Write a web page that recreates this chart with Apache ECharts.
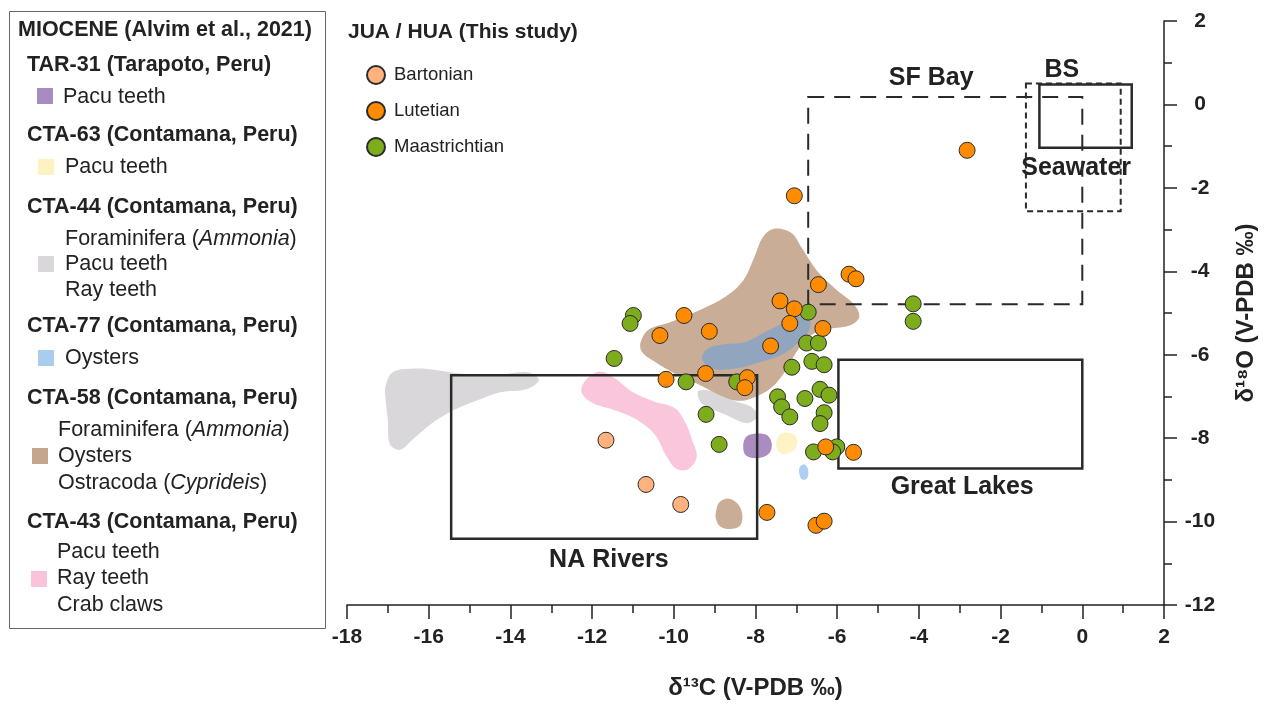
<!DOCTYPE html>
<html><head><meta charset="utf-8">
<script src="https://cdn.jsdelivr.net/npm/echarts@6/dist/echarts.min.js"></script>
<style>html,body{margin:0;padding:0;background:#fff}#c{width:1272px;height:707px}</style>
</head><body><div id="c"></div>
<script>
// ---------- DATA ----------
const xRange = [-18, 2];
const yRange = [-12, 2];

const bartonian = [[-11.66,-8.05],[-10.68,-9.11],[-9.83,-9.59]];
const lutetian = [[-2.82,-1.10],[-7.05,-2.19],[-5.71,-4.07],[-5.54,-4.18],[-6.46,-4.32],[-7.40,-4.71],[-7.05,-4.90],[-7.16,-5.25],[-6.35,-5.37],[-7.63,-5.79],[-9.13,-5.44],[-9.75,-5.06],[-10.34,-5.54],[-9.22,-6.45],[-10.19,-6.59],[-8.20,-6.55],[-8.26,-6.79],[-6.28,-8.21],[-5.60,-8.34],[-7.72,-9.78],[-6.52,-10.09],[-6.32,-9.99]];
const maastrichtian = [[-10.99,-5.06],[-11.07,-5.25],[-11.46,-6.09],[-9.70,-6.65],[-9.21,-7.43],[-8.89,-8.15],[-8.46,-6.65],[-6.71,-4.98],[-4.14,-4.78],[-4.14,-5.20],[-6.75,-5.72],[-6.46,-5.72],[-7.11,-6.30],[-6.62,-6.16],[-6.32,-6.24],[-7.46,-7.01],[-7.36,-7.25],[-7.16,-7.49],[-6.79,-7.05],[-6.42,-6.83],[-6.20,-6.97],[-6.32,-7.39],[-6.42,-7.65],[-6.58,-8.33],[-6.01,-8.21],[-6.11,-8.33]];

// Miocene fields (outlines, delta13C / delta18O)
const cta58Fields = [
  [[-10.82,-5.73],[-10.62,-5.40],[-10.09,-5.22],[-9.36,-4.93],[-8.72,-4.60],[-8.30,-4.22],[-8.02,-3.64],[-7.82,-3.18],[-7.55,-2.98],[-7.12,-3.08],[-6.86,-3.45],[-6.50,-3.98],[-6.02,-4.44],[-5.58,-4.80],[-5.46,-5.10],[-5.70,-5.30],[-6.30,-5.40],[-6.68,-5.56],[-7.00,-5.94],[-7.26,-6.38],[-7.62,-6.80],[-8.13,-7.06],[-8.50,-7.10],[-8.90,-6.96],[-9.38,-6.72],[-9.88,-6.50],[-10.38,-6.22],[-10.76,-5.96]],
  [[-8.96,-9.73],[-8.88,-9.53],[-8.65,-9.45],[-8.43,-9.58],[-8.32,-9.85],[-8.38,-10.10],[-8.62,-10.18],[-8.86,-10.12],[-8.97,-9.93]]
];
const cta44Fields = [
  [[-17.06,-6.77],[-16.92,-6.45],[-16.65,-6.35],[-16.04,-6.34],[-15.23,-6.45],[-14.43,-6.50],[-13.59,-6.42],[-13.30,-6.60],[-13.59,-6.82],[-14.25,-6.90],[-14.82,-7.10],[-15.41,-7.34],[-16.00,-7.70],[-16.40,-8.04],[-16.70,-8.28],[-16.95,-8.14],[-17.00,-7.57],[-17.06,-7.02]],
  [[-9.38,-6.86],[-9.04,-6.88],[-8.55,-7.10],[-8.09,-7.26],[-7.96,-7.48],[-8.21,-7.64],[-8.70,-7.45],[-9.28,-7.20],[-9.41,-7.00]]
];
const cta43Fields = [
  [[-12.16,-6.61],[-11.81,-6.40],[-11.45,-6.56],[-11.03,-6.88],[-10.48,-7.12],[-9.98,-7.28],[-9.72,-7.62],[-9.55,-8.05],[-9.44,-8.45],[-9.66,-8.75],[-9.95,-8.73],[-10.21,-8.38],[-10.45,-7.93],[-10.92,-7.55],[-11.51,-7.31],[-12.00,-7.15],[-12.26,-6.90]]
];
const tar31Fields = [
  [[-8.30,-8.17],[-8.22,-7.96],[-7.96,-7.89],[-7.70,-7.94],[-7.60,-8.15],[-7.68,-8.38],[-7.96,-8.48],[-8.24,-8.41]]
];
const cta63Fields = [
  [[-7.48,-8.05],[-7.38,-7.90],[-7.18,-7.87],[-7.00,-7.97],[-7.00,-8.21],[-7.16,-8.35],[-7.35,-8.38],[-7.48,-8.25]]
];
const cta77Fields = [
  [[-9.31,-6.09],[-9.16,-5.85],[-8.75,-5.75],[-8.26,-5.70],[-7.77,-5.46],[-7.28,-5.22],[-6.91,-5.08],[-6.67,-5.18],[-6.71,-5.46],[-7.03,-5.78],[-7.40,-6.02],[-7.89,-6.18],[-8.50,-6.33],[-9.06,-6.33]],
  [[-6.91,-8.68],[-6.79,-8.63],[-6.71,-8.77],[-6.74,-8.97],[-6.86,-8.99],[-6.93,-8.84]]
];

// reference water boxes [x0, y0, x1, y1]
const boxNames = ['NA Rivers', 'Great Lakes', 'SF Bay', 'Seawater', 'BS'];
const boxExtents = [[-15.45,-6.49,-7.96,-10.41],[-5.97,-6.12,0.0,-8.73],[-6.71,0.18,0.0,-4.79],[-1.38,0.50,0.94,-2.56],[-1.05,0.48,1.21,-1.04]];
const boxLabelPos = [[-11.59,-10.93],[-2.94,-9.18],[-3.70,0.63],[-0.15,-1.52],[-0.50,0.82]];

// ---------- STYLE ----------
const FONT = '"Liberation Sans", Arial, sans-serif';
const boxStyle = {
  'NA Rivers': {lineWidth: 2.5, lineDash: null},
  'Great Lakes': {lineWidth: 2.5, lineDash: null},
  'SF Bay': {lineWidth: 2, lineDash: [16, 10]},
  'Seawater': {lineWidth: 2, lineDash: [6, 4]},
  'BS': {lineWidth: 2.5, lineDash: null}
};

function fieldSeries(name, polys, color, z) {
  return {
    type: 'custom', name: name, coordinateSystem: 'cartesian2d', silent: true, z: z,
    data: polys.map((p, i) => [p[0][0], p[0][1], i]),
    encode: {x: 0, y: 1},
    renderItem: function (params, api) {
      const pts = polys[params.dataIndex].map(p => api.coord(p));
      return {type: 'polygon', shape: {points: pts, smooth: 0.35}, style: {fill: color}};
    }
  };
}

const chart = echarts.init(document.getElementById('c'), null, {renderer: 'canvas'});

const scatterCommon = {symbol: 'circle', symbolSize: 16};

function T(text, x, y, bold) {
  return {type: 'text', x: x, y: y, style: {text: text, fill: '#222', font: (bold ? 'bold ' : '') + '21.5px ' + FONT, verticalAlign: 'middle'}};
}
function R(text, x, y) {
  return {type: 'text', x: x, y: y, style: {
    rich: {i: {fontFamily: FONT, fontSize: 21.5, fontStyle: 'italic', fill: '#222'}},
    text: text, fill: '#222', font: '21.5px ' + FONT, verticalAlign: 'middle'}};
}
function SQ(x, y, w, color) {
  return {type: 'rect', shape: {x: x, y: y, width: w, height: w}, style: {fill: color}};
}

const option = {
  animation: false,
  backgroundColor: '#fff',
  grid: {left: 347, right: 108, top: 21, bottom: 102},
  xAxis: {
    type: 'value', min: xRange[0], max: xRange[1], interval: 2, position: 'bottom',
    name: 'δ¹³C (V-PDB ‰)', nameLocation: 'middle', nameGap: 71,
    nameTextStyle: {fontFamily: FONT, fontWeight: 'bold', fontSize: 24, color: '#222'},
    axisLine: {onZero: false, lineStyle: {color: '#222', width: 1.5}},
    axisTick: {length: 14, lineStyle: {color: '#222', width: 1.5}},
    minorTick: {show: true, splitNumber: 2, length: 8, lineStyle: {color: '#222', width: 1.5}},
    splitLine: {show: false},
    axisLabel: {fontFamily: FONT, fontWeight: 'bold', fontSize: 21, color: '#222', margin: 22}
  },
  yAxis: {
    type: 'value', min: yRange[0], max: yRange[1], interval: 2, position: 'right',
    name: 'δ¹⁸O (V-PDB ‰)', nameLocation: 'middle', nameGap: 70, nameRotate: 90,
    nameTextStyle: {fontFamily: FONT, fontWeight: 'bold', fontSize: 24, color: '#222'},
    axisLine: {onZero: false, lineStyle: {color: '#222', width: 1.5}},
    axisTick: {length: 13, lineStyle: {color: '#222', width: 1.5}},
    minorTick: {show: true, splitNumber: 2, length: 8, lineStyle: {color: '#222', width: 1.5}},
    splitLine: {show: false},
    axisLabel: {fontFamily: FONT, fontWeight: 'bold', fontSize: 21, color: '#222', margin: 36, align: 'center'}
  },
  legend: {
    data: ['Bartonian', 'Lutetian', 'Maastrichtian'],
    left: 361, top: 60, orient: 'vertical', itemWidth: 18, itemHeight: 18, itemGap: 16,
    icon: 'circle',
    textStyle: {fontFamily: FONT, fontSize: 18.5, color: '#222', padding: [0, 0, 0, 4]}
  },
  graphic: [
    {type: 'rect', shape: {x: 9.5, y: 11.5, width: 316, height: 617}, style: {fill: '#fff', stroke: '#666', lineWidth: 1}, z: -10},
    T('MIOCENE (Alvim et al., 2021)', 18, 30, true),
    T('TAR-31 (Tarapoto, Peru)', 27, 65, true),
    SQ(37, 88, 16, '#a98cbf'), T('Pacu teeth', 63, 97, false),
    T('CTA-63 (Contamana, Peru)', 27, 135, true),
    SQ(38, 159, 16, '#fff2c2'), T('Pacu teeth', 65, 167, false),
    T('CTA-44 (Contamana, Peru)', 27, 207, true),
    R('Foraminifera ({i|Ammonia})', 65, 239),
    SQ(38, 256, 16, '#d9d7da'), T('Pacu teeth', 65, 264, false),
    T('Ray teeth', 65, 290, false),
    T('CTA-77 (Contamana, Peru)', 27, 326, true),
    SQ(38, 350, 16, '#a9cdee'), T('Oysters', 65, 358, false),
    T('CTA-58 (Contamana, Peru)', 27, 398, true),
    R('Foraminifera ({i|Ammonia})', 58, 430),
    SQ(32, 448, 16, '#c4a58d'), T('Oysters', 58, 456, false),
    R('Ostracoda ({i|Cyprideis})', 58, 483),
    T('CTA-43 (Contamana, Peru)', 27, 522, true),
    T('Pacu teeth', 57, 552, false),
    SQ(31, 571, 16, '#f9c4d9'), T('Ray teeth', 57, 578, false),
    T('Crab claws', 57, 605, false),
    {type: 'text', x: 348, y: 32, style: {text: 'JUA / HUA (This study)', fill: '#222', font: 'bold 21px ' + FONT, verticalAlign: 'middle'}}
  ],
  series: [
    fieldSeries('CTA-44', cta44Fields, '#d9d7da', 1),
    fieldSeries('CTA-43', cta43Fields, '#f9c6dc', 1),
    fieldSeries('CTA-58', cta58Fields, '#c9ad97', 1),
    fieldSeries('CTA-77', cta77Fields, 'rgba(90,160,230,0.5)', 1),
    fieldSeries('TAR-31', tar31Fields, '#aa8cc0', 1),
    fieldSeries('CTA-63', cta63Fields, '#fdf3c4', 1),
    {
      type: 'custom', name: 'boxes', coordinateSystem: 'cartesian2d', silent: true, z: 2,
      data: boxExtents.map((b, i) => [b[0], b[1], i]),
      encode: {x: 0, y: 1},
      renderItem: function (params, api) {
        const b = boxExtents[params.dataIndex];
        const st = boxStyle[boxNames[params.dataIndex]];
        const p0 = api.coord([b[0], b[1]]), p1 = api.coord([b[2], b[3]]);
        return {type: 'rect', shape: {x: Math.min(p0[0], p1[0]), y: Math.min(p0[1], p1[1]), width: Math.abs(p1[0] - p0[0]), height: Math.abs(p1[1] - p0[1])},
          style: {fill: 'none', stroke: '#2a2a2a', lineWidth: st.lineWidth, lineDash: st.lineDash}};
      }
    },
    {
      type: 'custom', name: 'boxLabels', coordinateSystem: 'cartesian2d', silent: true, z: 1.5,
      data: boxLabelPos.map((p, i) => [p[0], p[1], i]),
      encode: {x: 0, y: 1},
      renderItem: function (params, api) {
        const p = api.coord(boxLabelPos[params.dataIndex]);
        return {type: 'text', x: p[0], y: p[1], style: {text: boxNames[params.dataIndex], fill: '#222', font: 'bold 25px ' + FONT, align: 'center', verticalAlign: 'middle'}};
      }
    },
    Object.assign({type: 'scatter', name: 'Maastrichtian', data: maastrichtian, z: 5,
      itemStyle: {color: '#7dac1c', borderColor: '#2b2b2b', borderWidth: 1, opacity: 1}}, scatterCommon),
    Object.assign({type: 'scatter', name: 'Lutetian', data: lutetian, z: 6,
      itemStyle: {color: '#ff8c00', borderColor: '#2b2b2b', borderWidth: 1, opacity: 1}}, scatterCommon),
    Object.assign({type: 'scatter', name: 'Bartonian', data: bartonian, z: 7,
      itemStyle: {color: '#ffb27d', borderColor: '#2b2b2b', borderWidth: 1, opacity: 1}}, scatterCommon)
  ]
};
chart.setOption(option);
</script>
</body></html>
